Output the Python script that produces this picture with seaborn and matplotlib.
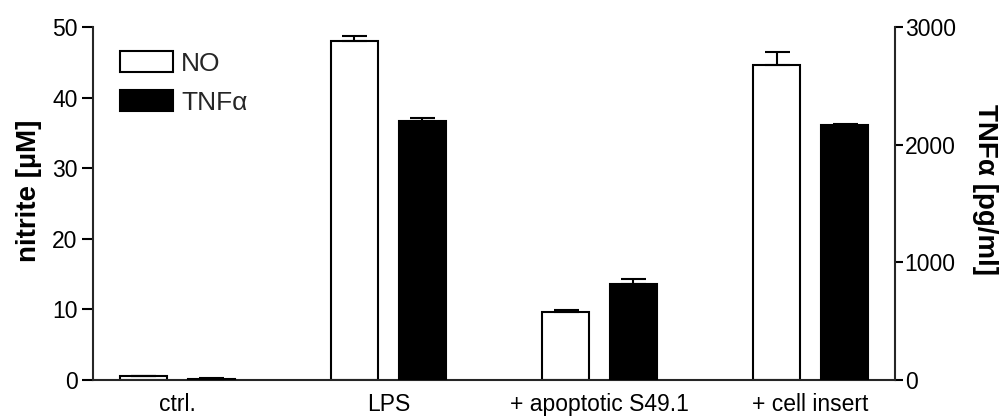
import numpy as np
import pandas as pd
import seaborn as sns
import matplotlib.pyplot as plt
from matplotlib import font_manager
from matplotlib.font_manager import FontProperties
from matplotlib.patches import Patch

# Conditions and measured values (mean with SEM)
conditions = ["ctrl.", "LPS", "+ apoptotic S49.1", "+ cell insert"]
series = ["NO", "TNF\u03b1"]
no_mean = [0.5, 48.1, 9.7, 44.6]        # nitrite [µM]
no_sem = [0.1, 0.6, 0.2, 1.9]
tnf_mean = [10, 2200, 820, 2165]        # TNFα [pg/ml]
tnf_sem = [4, 30, 40, 15]

sns.set_theme(style="ticks")
plt.rcParams["font.family"] = ["Liberation Sans", "DejaVu Sans"]
plt.rcParams["axes.linewidth"] = 1.5


def bold_sans(size):
    """Bold Liberation Sans if its file is available, else a generic bold sans."""
    for entry in font_manager.fontManager.ttflist:
        if entry.name == "Liberation Sans" and entry.weight in (700, "bold") \
                and entry.style == "normal":
            return FontProperties(fname=entry.fname, size=size)
    return FontProperties(family="sans-serif", weight="bold", size=size)


fig = plt.figure(figsize=(10.05, 4.17), dpi=100)
ax = fig.add_axes([0.0925, 0.0887, 0.798, 0.846])
ax2 = ax.twinx()

df_no = pd.DataFrame({"condition": conditions, "value": no_mean, "measure": series[0]})
df_tnf = pd.DataFrame({"condition": conditions, "value": tnf_mean, "measure": series[1]})
palette = {series[0]: "white", series[1]: "black"}

common = dict(x="condition", y="value", hue="measure", hue_order=series,
              order=conditions, palette=palette, width=0.644, gap=0.317,
              dodge=True, edgecolor="black", linewidth=1.5, errorbar=None,
              legend=False, saturation=1)
sns.barplot(data=df_no, ax=ax, **common)
sns.barplot(data=df_tnf, ax=ax2, **common)


def add_errorbars(axis, means, sems):
    bars = sorted(axis.patches, key=lambda p: p.get_x())
    xs = [b.get_x() + b.get_width() / 2 for b in bars]
    axis.errorbar(xs, means, yerr=[np.zeros(len(sems)), sems], fmt="none",
                  ecolor="black", elinewidth=1.5, capsize=9, capthick=1.5,
                  zorder=1)


add_errorbars(ax, no_mean, no_sem)
add_errorbars(ax2, tnf_mean, tnf_sem)

ax.set_xlim(-0.4, 3.4)
ax.set_ylim(0, 50)
ax.set_yticks([0, 10, 20, 30, 40, 50])
ax2.set_ylim(0, 3000)
ax2.set_yticks([0, 1000, 2000, 3000])

label_font = bold_sans(20)
ax.set_xlabel("")
ax2.set_xlabel("")
ax.set_ylabel("nitrite [\u00b5M]", fontproperties=label_font, color="black",
              rotation=90, ha="center", va="center")
ax.yaxis.set_label_coords(-0.08, 0.535)
ax2.set_ylabel("TNF\u03b1 [pg/ml]", fontproperties=label_font, color="black",
               rotation=270, ha="center", va="center")
ax2.yaxis.set_label_coords(1.112, 0.54)

for a in (ax, ax2):
    a.spines["top"].set_visible(False)
ax.spines["right"].set_visible(False)
ax2.spines["left"].set_visible(False)
ax2.spines["bottom"].set_visible(False)

ax.tick_params(axis="y", length=8, width=1.5, pad=3, labelsize=16.5, colors="black")
ax2.tick_params(axis="y", length=6, width=1.5, pad=1, labelsize=16.5, colors="black")
ax.tick_params(axis="x", length=0, pad=9, labelsize=16.5, colors="black")
ax2.tick_params(axis="x", length=0)

handles = [Patch(facecolor="white", edgecolor="black", linewidth=1.5, label=series[0]),
           Patch(facecolor="black", edgecolor="black", linewidth=1.5, label=series[1])]
ax2.legend(handles=handles, loc="upper left", bbox_to_anchor=(0.034, 0.932),
           frameon=False, fontsize=19, handlelength=2.0, handleheight=0.85,
           handletextpad=0.3, labelspacing=0.55, borderpad=0, borderaxespad=0)

fig.savefig("out.png", dpi=100)
